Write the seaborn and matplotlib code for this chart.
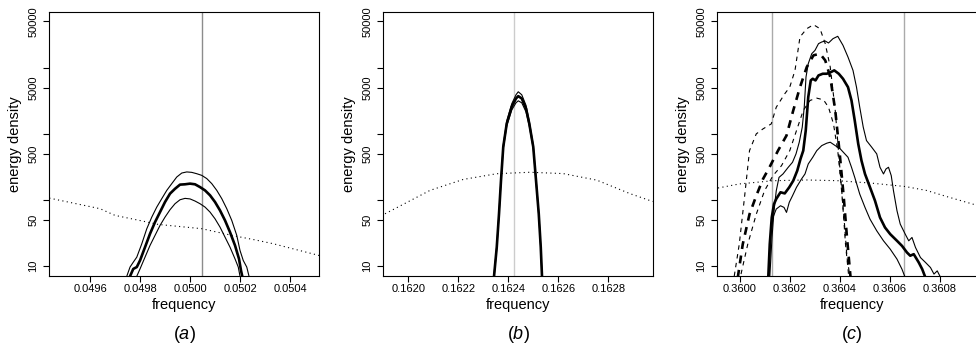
import matplotlib
matplotlib.use("Agg")
import matplotlib.pyplot as plt
import numpy as np
import pandas as pd
import seaborn as sns

# ---- panel (a) ----
a_upper_f = [0.049747, 0.04976, 0.049773, 0.049787, 0.049807, 0.049827, 0.049847, 0.049867,
             0.049887, 0.049907, 0.049927, 0.049947, 0.049967, 0.049987, 0.050007, 0.050027,
             0.050047, 0.050067, 0.050087, 0.050107, 0.050127, 0.050147, 0.050167, 0.050187,
             0.0502, 0.050213, 0.050227, 0.050236]
a_upper_e = [7.05, 9.7, 11.5, 13.7, 21.8, 36.8, 55.2, 78.3, 105, 140, 177, 223, 256, 266, 262,
             250, 236, 211, 177, 140, 105, 74, 49.2, 29.2, 17.3, 12.2, 9.7, 7.05]
a_mid_f = [0.04976, 0.049773, 0.049787, 0.0498, 0.04982, 0.04984, 0.04986, 0.04988, 0.0499,
           0.04992, 0.04994, 0.04996, 0.04998, 0.0500, 0.05002, 0.05004, 0.05006, 0.05008,
           0.0501, 0.05012, 0.05014, 0.05016, 0.05018, 0.050196, 0.050204, 0.050209]
a_mid_e = [7.05, 9.1, 9.7, 12.2, 19.4, 30.9, 46.4, 65.8, 93.4, 125, 148, 171, 173, 177, 173,
           157, 140, 118, 93.4, 69.7, 49.2, 32.7, 20.6, 12.9, 8.6, 7.05]
a_lower_f = [0.049787, 0.0498, 0.04982, 0.04984, 0.04986, 0.04988, 0.0499, 0.04992, 0.04994,
             0.04996, 0.04998, 0.0500, 0.05002, 0.05004, 0.05006, 0.05008, 0.0501, 0.05012,
             0.05014, 0.05016, 0.05018, 0.050193, 0.0502]
a_lower_e = [7.05, 9.1, 13.7, 20.6, 29.2, 41.3, 55.2, 71.4, 88, 101, 106, 104, 96.6, 88, 78.3,
             65.8, 52.1, 39, 27.5, 19.4, 12.9, 9.7, 7.05]
a_bg_f = [0.049437, 0.04964, 0.0497, 0.0498, 0.049873, 0.050047, 0.050172, 0.05026, 0.050332,
          0.050517]
a_bg_e = [107, 74, 58.6, 49, 42.8, 36.9, 29, 25, 21.9, 14.5]
a_marks = [0.050049]
a_ticks = [0.0496, 0.0498, 0.0500, 0.0502, 0.0504]
a_xlim = (0.049437, 0.050517)

# ---- panel (b) ----
b_freq = [0.162343, 0.162354, 0.162363, 0.162371, 0.16238, 0.162394, 0.162414, 0.162431,
          0.16244, 0.162454, 0.162471, 0.162484, 0.1625, 0.162511, 0.162522, 0.16253, 0.162535]
b_upper = [7.5, 20.5, 66, 212, 680, 1560, 2850, 3900, 4330, 3900, 2700, 1560, 680, 212, 66,
           20.5, 7.5]
b_mid = [7, 19.4, 62, 199, 636, 1436, 2570, 3430, 3720, 3430, 2420, 1436, 636, 199, 62, 19.4, 7]
b_lower = [6.6, 18.3, 58, 187, 595, 1320, 2300, 2950, 3160, 2950, 2150, 1320, 595, 187, 58,
           18.3, 6.6]
b_bg_f = [0.161907, 0.162087, 0.16222, 0.162354, 0.162487, 0.16262, 0.162754, 0.162887, 0.162978]
b_bg_e = [62, 140, 205, 250, 263, 251, 200, 125, 95]
b_marks = [0.162424]
b_ticks = [0.1620, 0.1622, 0.1624, 0.1626, 0.1628]
b_xlim = (0.1619, 0.16298)

# ---- panel (c) ----
c_upper_f = [0.360119, 0.360128, 0.360136, 0.360145, 0.360156, 0.360172, 0.360193, 0.36021,
             0.360224, 0.360237, 0.360249, 0.360257, 0.360264, 0.360273, 0.360287, 0.3603,
             0.360314, 0.360327, 0.360341, 0.360354, 0.360372, 0.360391, 0.360412, 0.360432,
             0.360452, 0.360466, 0.360479, 0.360493, 0.360506, 0.360527, 0.360547, 0.36056,
             0.360574, 0.360584, 0.360594, 0.360605, 0.360614, 0.360628, 0.360641, 0.360661,
             0.360675, 0.360688, 0.360702, 0.360722, 0.360742, 0.360762, 0.360776, 0.360789,
             0.360803]
c_upper_e = [6.7, 27.2, 68.9, 138, 220, 248, 313, 372, 498, 748, 1262, 2535, 7230, 11500, 16300,
             18300, 23100, 24500, 25350, 23650, 27500, 29850, 21800, 14500, 9120, 5090, 2535,
             1262, 792, 628, 498, 313, 248, 295, 313, 234, 138, 68.9, 43.3, 30.5, 24.2, 27.2,
             19.2, 13.5, 11.4, 9.55, 7.6, 8.5, 6.7]
c_mid_f = [0.360113, 0.360119, 0.360127, 0.360136, 0.360145, 0.360162, 0.360179, 0.360197,
           0.360213, 0.360229, 0.360242, 0.360253, 0.360263, 0.360273, 0.360283, 0.360291,
           0.360302, 0.360314, 0.360331, 0.360347, 0.360364, 0.360377, 0.360395, 0.360412,
           0.360432, 0.360446, 0.360459, 0.360473, 0.360486, 0.3605, 0.36052, 0.36054, 0.36056,
           0.36058, 0.360601, 0.360628, 0.360648, 0.360668, 0.360681, 0.360695, 0.360715,
           0.360729, 0.360742]
c_mid_e = [6.7, 21.5, 54.6, 87, 104, 131, 126, 156, 196, 278, 418, 558, 1122, 3600, 6430, 6810,
           6430, 7650, 8110, 8110, 8600, 9120, 8110, 6810, 5090, 3200, 1592, 705, 394, 248, 156,
           97.7, 54.6, 38.5, 30.5, 24.2, 20.3, 16.1, 14.4, 15.2, 11.4, 9.0, 6.7]
c_lower_f = [0.360116, 0.360123, 0.360132, 0.360145, 0.360162, 0.360176, 0.360186, 0.360197,
             0.36021, 0.360226, 0.360246, 0.36026, 0.360273, 0.360291, 0.360307, 0.360327,
             0.360347, 0.360361, 0.360381, 0.360401, 0.360432, 0.360446, 0.360459, 0.360479,
             0.3605, 0.36052, 0.360547, 0.360574, 0.360601, 0.360628, 0.360648, 0.360661]
c_lower_e = [6.7, 27.2, 54.6, 73.1, 82, 77.4, 65, 92.3, 116, 156, 208, 248, 351, 443, 558, 665,
             723, 748, 665, 593, 443, 313, 220, 123, 77.4, 51.5, 34.3, 24.2, 18.1, 12.8, 9.0, 6.7]
c_dhi_f = [0.359977, 0.359997, 0.360018, 0.360038, 0.360065, 0.360092, 0.360125, 0.360145,
           0.360179, 0.360199, 0.36022, 0.36024, 0.360267, 0.360294, 0.36032, 0.360341,
           0.360361, 0.360381, 0.360395, 0.360408, 0.360422, 0.360435]
c_dhi_e = [7.1, 21.5, 110, 558, 1000, 1190, 1415, 2530, 4040, 5090, 9120, 29200, 38900, 44700,
           38900, 23100, 10230, 2260, 498, 123, 21.5, 7]
c_dmid_f = [0.359991, 0.360011, 0.360038, 0.360065, 0.360092, 0.360118, 0.360152, 0.360186,
            0.360213, 0.36024, 0.360267, 0.360294, 0.36032, 0.360341, 0.360361, 0.360381,
            0.360399, 0.360415, 0.360428, 0.360442]
c_dmid_e = [6.7, 21.5, 61, 116, 208, 313, 558, 944, 2260, 5090, 10230, 15400, 16300, 12900, 7240,
            2260, 498, 110, 27, 6.9]
c_dlo_f = [0.360004, 0.360031, 0.360065, 0.360098, 0.360132, 0.360166, 0.360199, 0.360226,
           0.360253, 0.36028, 0.360307, 0.360334, 0.360354, 0.360374, 0.360391, 0.360404,
           0.360418, 0.360428, 0.36044]
c_dlo_e = [7.6, 21.5, 61, 138, 234, 331, 558, 1122, 2260, 3200, 3470, 3270, 2530, 1413, 558, 174,
           43, 13.5, 6.9]
c_bg_f = [0.359912, 0.359997, 0.360132, 0.360267, 0.360392, 0.360527, 0.360661, 0.360745,
          0.36083, 0.360964]
c_bg_e = [152, 175, 196, 201, 196, 180, 160, 140, 112, 80]
c_marks = [0.360129, 0.360656]
c_ticks = [0.3600, 0.3602, 0.3604, 0.3606, 0.3608]
c_xlim = (0.359909, 0.360989)

y_ticks = [10, 50, 100, 500, 1000, 5000, 10000, 50000]
y_labels = ["10", "50", "", "500", "", "5000", "", "50000"]
y_lim = (10 ** 0.852, 10 ** 4.847)

sns.set_theme(style="ticks", rc={"axes.edgecolor": "black", "xtick.color": "black",
                                 "ytick.color": "black", "text.color": "black",
                                 "axes.labelcolor": "black"})
plt.rcParams["font.family"] = ["Liberation Sans", "DejaVu Sans"]
plt.rcParams["mathtext.fontset"] = "custom"
plt.rcParams["mathtext.rm"] = "Liberation Sans"
plt.rcParams["mathtext.it"] = "Liberation Sans:italic"

thin = 0.8
bold = 1.9
dotted = (0, (1, 3))
dashed = (0, (4, 4))
bold_dashed = (0, (3, 2.5))

fig = plt.figure(figsize=(9.76, 3.51), dpi=100)
lefts = [0.0505, 0.3927, 0.7349]
axes = [fig.add_axes([l, 0.2137, 0.2766, 0.753]) for l in lefts]


def line(ax, f, e, lw, ls="-"):
    sns.lineplot(x=f, y=e, ax=ax, color="black", lw=lw, linestyle=ls,
                 errorbar=None, sort=False)


def frame(ax, ticks, xlim, marks, mark_color, letter):
    ax.set_yscale("log")
    for m in marks:
        ax.axvline(m, color=mark_color, lw=1.0, zorder=0)
    ax.set_xlim(*xlim)
    ax.set_ylim(*y_lim)
    ax.set_xticks(ticks)
    ax.set_xticklabels([f"{t:.4f}" for t in ticks], fontsize=8)
    ax.set_yticks(y_ticks)
    ax.set_yticklabels(y_labels, fontsize=8, rotation=90, va="center")
    ax.minorticks_off()
    ax.tick_params(axis="x", length=4, width=0.8, pad=2)
    ax.tick_params(axis="y", length=4, width=0.8, pad=4)
    for s in ax.spines.values():
        s.set_linewidth(0.8)
        s.set_visible(True)
    ax.set_xlabel("frequency", fontsize=10.5)
    ax.set_ylabel("energy density", fontsize=10.5)
    ax.xaxis.set_label_coords(0.5, -0.083)
    ax.yaxis.set_label_coords(-0.1, 0.5)
    ax.text(0.5, -0.22, "($\\mathit{" + letter + "}$)", transform=ax.transAxes,
            ha="center", va="center", fontsize=13)


ax = axes[0]
line(ax, a_bg_f, a_bg_e, thin, dotted)
line(ax, a_upper_f, a_upper_e, thin)
line(ax, a_lower_f, a_lower_e, thin)
line(ax, a_mid_f, a_mid_e, bold)
frame(ax, a_ticks, a_xlim, a_marks, "#8c8c8c", "a")

ax = axes[1]
line(ax, b_bg_f, b_bg_e, thin, dotted)
line(ax, b_freq, b_upper, thin)
line(ax, b_freq, b_lower, thin)
line(ax, b_freq, b_mid, bold)
frame(ax, b_ticks, b_xlim, b_marks, "#cccccc", "b")

ax = axes[2]
line(ax, c_bg_f, c_bg_e, thin, dotted)
line(ax, c_upper_f, c_upper_e, thin)
line(ax, c_lower_f, c_lower_e, thin)
line(ax, c_mid_f, c_mid_e, bold)
line(ax, c_dhi_f, c_dhi_e, thin, dashed)
line(ax, c_dlo_f, c_dlo_e, thin, dashed)
line(ax, c_dmid_f, c_dmid_e, bold, bold_dashed)
frame(ax, c_ticks, c_xlim, c_marks, "#aaaaaa", "c")

fig.savefig("out.png", dpi=100)
